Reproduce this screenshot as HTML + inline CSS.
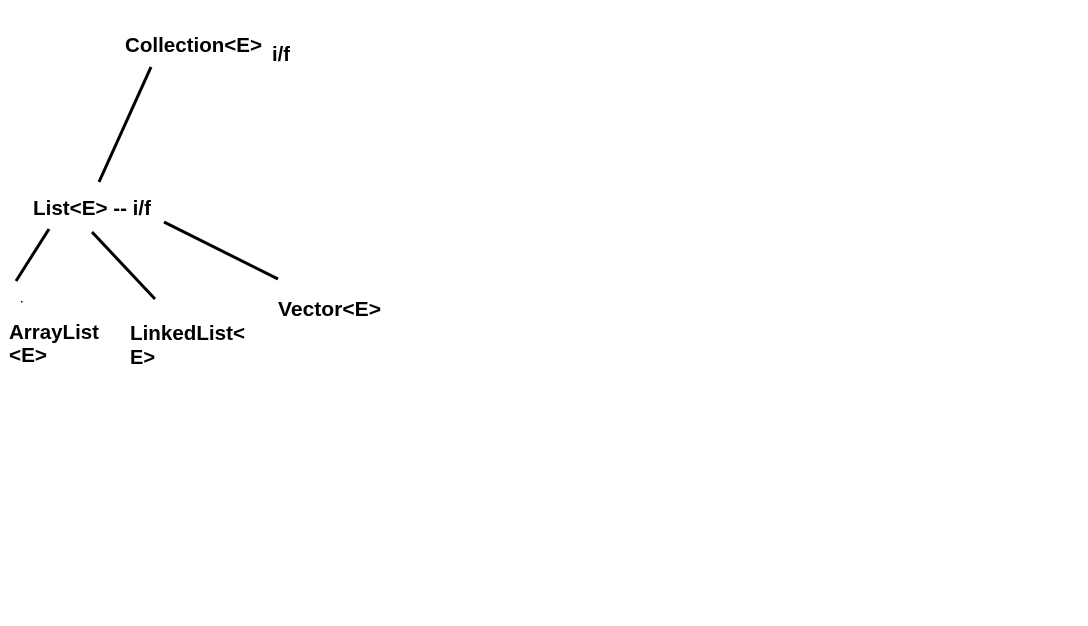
<!DOCTYPE html>
<html><head><style>body{margin:0;background:#fff}svg{display:block}</style></head>
<body>
<svg width="1088" height="626" xmlns="http://www.w3.org/2000/svg">
<rect width="1088" height="626" fill="#fff"/>
<g font-family="Liberation Sans, Arial, sans-serif" font-weight="bold" font-size="20" fill="#000">
<text x="125" y="52" textLength="137" lengthAdjust="spacingAndGlyphs">Collection&lt;E&gt;</text>
<text x="272" y="61" textLength="18" lengthAdjust="spacingAndGlyphs">i/f</text>
<text x="33" y="215" textLength="118" lengthAdjust="spacingAndGlyphs">List&lt;E&gt; -- i/f</text>
<text x="9" y="339" textLength="90" lengthAdjust="spacingAndGlyphs">ArrayList</text>
<text x="9" y="362" textLength="38" lengthAdjust="spacingAndGlyphs">&lt;E&gt;</text>
<text x="130" y="340" textLength="115" lengthAdjust="spacingAndGlyphs">LinkedList&lt;</text>
<text x="130" y="364" textLength="25" lengthAdjust="spacingAndGlyphs">E&gt;</text>
<text x="278" y="316" textLength="103" lengthAdjust="spacingAndGlyphs">Vector&lt;E&gt;</text>
</g>
<g stroke="#000" stroke-width="3" stroke-linecap="butt">
<line x1="151" y1="67" x2="99" y2="182"/>
<line x1="49" y1="229" x2="16" y2="281"/>
<line x1="92" y1="232" x2="155" y2="299"/>
<line x1="164" y1="222" x2="278" y2="279"/>
</g>
<rect x="21" y="301" width="1.5" height="1.5" fill="#000"/>
</svg>
</body></html>
